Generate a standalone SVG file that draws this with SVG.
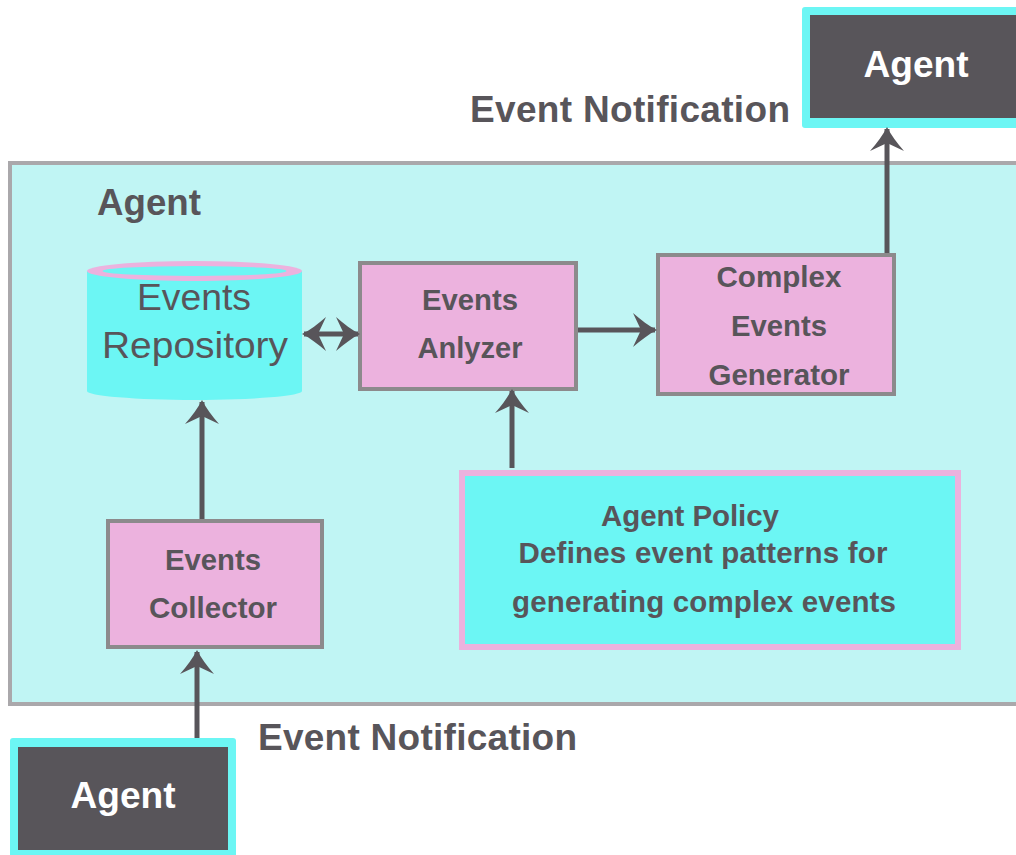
<svg xmlns="http://www.w3.org/2000/svg" width="1016" height="855" viewBox="0 0 1016 855">
  <style>
    .bold { font-family: "Liberation Sans", Arial, sans-serif; font-weight: bold; fill: #58555a; }
    .label { font-size: 37px; }
    .box-text { font-size: 29.5px; text-anchor: middle; }
    .agent-text { font-family: "Liberation Sans", Arial, sans-serif; font-weight: bold; font-size: 37px; fill: #ffffff; text-anchor: middle; }
    .repo-text { font-family: "Liberation Sans", Arial, sans-serif; font-size: 36px; fill: #58555a; text-anchor: middle; }
    .proc { fill: #ecb2de; stroke: #8c8a8c; stroke-width: 4; }
    .ext-outer { fill: #6cf6f4; }
    .ext-inner { fill: #58555a; }
    .conn { stroke: #58555a; stroke-width: 5; fill: none; }
  </style>
  <defs>
    <marker id="head" markerUnits="userSpaceOnUse" markerWidth="30" markerHeight="40" viewBox="-26 -20 30 40" refX="0" refY="0" orient="auto-start-reverse">
      <path d="M2,0 C-6,4 -14,10 -22,17 L-14,0 L-22,-17 C-14,-10 -6,-4 2,0 Z" fill="#58555a"/>
    </marker>
  </defs>

  <!-- enclosing agent container -->
  <g id="agent-container">
    <rect x="10" y="163" width="1020" height="541" fill="#c0f5f4" stroke="#aaa8ab" stroke-width="4"/>
    <text class="bold label" x="97" y="215" textLength="104" lengthAdjust="spacingAndGlyphs">Agent</text>
  </g>

  <!-- external agents -->
  <g id="agent-top">
    <rect class="ext-outer" x="802" y="7" width="230" height="121" rx="3"/>
    <rect class="ext-inner" x="810" y="15" width="220" height="103"/>
    <text class="agent-text" x="916" y="77" textLength="105" lengthAdjust="spacingAndGlyphs">Agent</text>
  </g>
  <g id="agent-bottom">
    <rect class="ext-outer" x="10" y="738" width="226" height="125" rx="3"/>
    <rect class="ext-inner" x="18" y="747" width="210" height="103"/>
    <text class="agent-text" x="123" y="808" textLength="105" lengthAdjust="spacingAndGlyphs">Agent</text>
  </g>

  <!-- notification labels -->
  <g id="label-top">
    <text class="bold label" x="470" y="122" textLength="320" lengthAdjust="spacing">Event Notification</text>
  </g>
  <g id="label-bottom">
    <text class="bold label" x="258" y="750" textLength="319" lengthAdjust="spacing">Event Notification</text>
  </g>

  <!-- events repository (cylinder) -->
  <g id="events-repository">
    <path d="M87,271 L87,391 A107.5,9 0 0 0 302,391 L302,271 Z" fill="#6cf6f4"/>
    <ellipse cx="194.5" cy="271" rx="107.5" ry="10" fill="#ecb2de"/>
    <ellipse cx="194.5" cy="271" rx="92" ry="5" fill="#6cf6f4"/>
    <text class="repo-text" x="194" y="310" textLength="114" lengthAdjust="spacingAndGlyphs">Events</text>
    <text class="repo-text" x="195" y="358" textLength="186" lengthAdjust="spacingAndGlyphs">Repository</text>
  </g>

  <g id="events-analyzer">
    <rect class="proc" x="360" y="263" width="216" height="126"/>
    <text class="bold box-text" x="470" y="310" textLength="96" lengthAdjust="spacingAndGlyphs">Events</text>
    <text class="bold box-text" x="470" y="358" textLength="105" lengthAdjust="spacingAndGlyphs">Anlyzer</text>
  </g>

  <g id="complex-events-generator">
    <rect class="proc" x="658" y="255" width="236" height="139"/>
    <text class="bold box-text" x="779" y="287" textLength="125" lengthAdjust="spacingAndGlyphs">Complex</text>
    <text class="bold box-text" x="779" y="336" textLength="96" lengthAdjust="spacingAndGlyphs">Events</text>
    <text class="bold box-text" x="779" y="385" textLength="141" lengthAdjust="spacingAndGlyphs">Generator</text>
  </g>

  <g id="events-collector">
    <rect class="proc" x="108" y="521" width="214" height="126"/>
    <text class="bold box-text" x="213" y="570" textLength="96" lengthAdjust="spacingAndGlyphs">Events</text>
    <text class="bold box-text" x="213" y="618" textLength="128" lengthAdjust="spacingAndGlyphs">Collector</text>
  </g>

  <g id="agent-policy">
    <rect x="462" y="473" width="496" height="174" fill="#6cf6f4" stroke="#ecb2de" stroke-width="6"/>
    <text class="bold box-text" x="690" y="526" textLength="178" lengthAdjust="spacing">Agent Policy</text>
    <text class="bold box-text" x="703" y="563" textLength="369" lengthAdjust="spacing">Defines event patterns for</text>
    <text class="bold box-text" x="704" y="612" textLength="384" lengthAdjust="spacing">generating complex events</text>
  </g>

  <!-- connectors -->
  <g id="connectors">
    <line class="conn" x1="197" y1="738" x2="197" y2="652" marker-end="url(#head)"/>
    <line class="conn" x1="202" y1="519" x2="202" y2="402" marker-end="url(#head)"/>
    <line class="conn" x1="304" y1="334" x2="358" y2="334" marker-start="url(#head)" marker-end="url(#head)"/>
    <line class="conn" x1="578" y1="330" x2="655" y2="330" marker-end="url(#head)"/>
    <line class="conn" x1="512" y1="468" x2="512" y2="391" marker-end="url(#head)"/>
    <line class="conn" x1="887" y1="253" x2="887" y2="129" marker-end="url(#head)"/>
  </g>
</svg>
